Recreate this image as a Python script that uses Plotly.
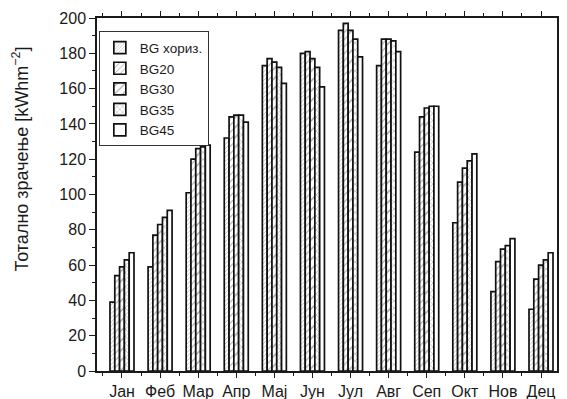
import plotly.graph_objects as go

months = ["Јан", "Феб", "Мар", "Апр", "Мај", "Јун", "Јул", "Авг", "Сеп", "Окт", "Нов", "Дец"]
series_names = ["BG хориз.", "BG20", "BG30", "BG35", "BG45"]
bg_hor = [39, 59, 101, 132, 173, 180, 193, 173, 124, 84, 45, 35]
bg20 = [54, 77, 120, 144, 177, 181, 197, 188, 144, 107, 62, 52]
bg30 = [59, 83, 126, 145, 175, 177, 193, 188, 149, 115, 69, 60]
bg35 = [63, 87, 127, 145, 172, 172, 188, 187, 150, 119, 71, 63]
bg45 = [67, 91, 128, 141, 163, 161, 178, 181, 150, 123, 75, 67]
y_ticks = [0, 20, 40, 60, 80, 100, 120, 140, 160, 180, 200]
y_title = "Тотално зрачење [kWhm<sup>−2</sup>]"

series = [bg_hor, bg20, bg30, bg35, bg45]
patterns = [("/", 3), ("/", 5), ("/", 7), ("x", 5), ("", 8)]

x_idx = list(range(len(months)))
fig = go.Figure()
for name, vals, (shape, size) in zip(series_names, series, patterns):
    fig.add_trace(go.Bar(
        x=x_idx, y=vals, name=name,
        marker=dict(color="white",
                    line=dict(color="#111111", width=1.7),
                    pattern=dict(shape=shape, size=size, solidity=0.2,
                                 fgcolor="#444444", bgcolor="white")),
    ))

# page body has an 8px margin: figure is sized so it ends at the window edge
fig.update_layout(
    width=559, height=391,
    margin=dict(l=89, r=10, t=10, b=28, autoexpand=False),
    paper_bgcolor="white", plot_bgcolor="white",
    barmode="group", bargap=0.37, bargroupgap=0.0,
    font=dict(family="Liberation Sans, Arial, sans-serif", size=16, color="#1a1a1a"),
    showlegend=True,
    legend=dict(x=0.004, y=0.962, xanchor="left", yanchor="top",
                bgcolor="white", bordercolor="#333333", borderwidth=1,
                font=dict(size=13.5), tracegroupgap=0, itemwidth=30,
                traceorder="normal"),
    xaxis=dict(
        automargin=False,
        range=[-0.656, 11.42],
        tickmode="array", tickvals=x_idx, ticktext=months,
        ticks="outside", ticklen=5, tickcolor="#1a1a1a",
        showline=True, linecolor="#1a1a1a", linewidth=1.5, mirror="allticks",
        showgrid=False, zeroline=False,
        minor=dict(tickvals=[i + 0.5 for i in range(-1, 12)], ticks="outside", ticklen=3, tickcolor="#1a1a1a"),
        tickfont=dict(size=16),
    ),
    yaxis=dict(
        automargin=False,
        range=[0, 200],
        tickmode="array", tickvals=y_ticks, ticktext=[str(v) for v in y_ticks],
        ticks="outside", ticklen=6, tickcolor="#1a1a1a",
        showline=True, linecolor="#1a1a1a", linewidth=1.5, mirror="allticks",
        showgrid=False, zeroline=False,
        minor=dict(dtick=10, ticks="outside", ticklen=3, tickcolor="#1a1a1a"),
        tickfont=dict(size=16),
    ),
    annotations=[dict(
        text=y_title, textangle=-90, showarrow=False,
        xref="paper", yref="paper", x=-0.167, y=0.60,
        xanchor="center", yanchor="middle",
        font=dict(size=18, color="#1a1a1a"),
    )],
)

fig.write_html("out.html")
